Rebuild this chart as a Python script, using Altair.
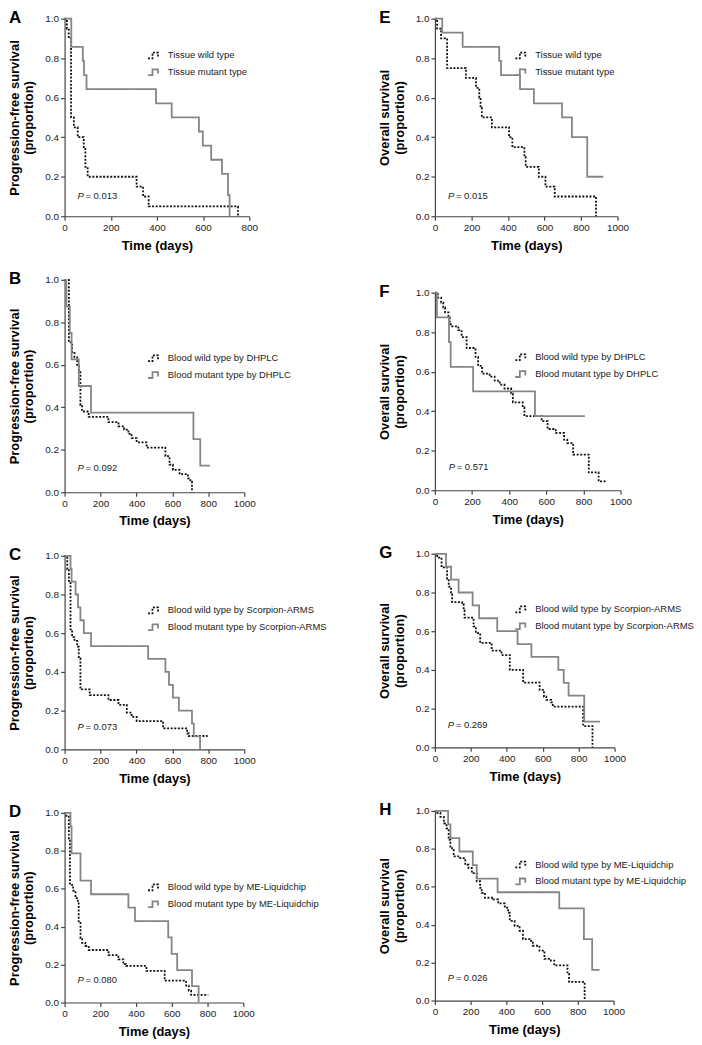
import altair as alt
import pandas as pd

FONT = "Liberation Sans"
WILD_COLOR = "#111111"
MUT_COLOR = "#858585"
WILD_DASH = [2, 1.6]
MUT_DASH = [1, 0]
STEP_SYMBOL = "M-1,0.45L-0.3,0.45L-0.3,-0.45L0.55,-0.45L0.55,0.2"

Y_TICKS = [0, 0.2, 0.4, 0.6, 0.8, 1.0]
X_TICKS_800 = [0, 200, 400, 600, 800]
X_TICKS_1000 = [0, 200, 400, 600, 800, 1000]

# ---------------- Panel A: tissue, progression-free survival ----------------
A_labels = ["Tissue wild type", "Tissue mutant type"]
A_wild_t = [0, 10, 18, 28, 40, 57, 83, 90, 100, 312, 340, 364, 751]
A_wild_s = [1.0, 0.95, 0.90, 0.50, 0.45, 0.40, 0.35, 0.25, 0.20, 0.15, 0.10, 0.05, 0.0]
A_mut_t = [0, 29, 79, 84, 95, 396, 464, 582, 599, 635, 682, 708, 715]
A_mut_s = [1.0, 0.857, 0.786, 0.714, 0.643, 0.571, 0.5, 0.429, 0.357, 0.286, 0.214, 0.107, 0.0]
A_p = "0.013"

# ---------------- Panel E: tissue, overall survival ----------------
E_labels = ["Tissue wild type", "Tissue mutant type"]
E_wild_t = [0, 12, 34, 67, 170, 225, 243, 250, 257, 312, 406, 424, 490, 497, 569, 605, 656, 882]
E_wild_s = [1.0, 0.95, 0.90, 0.75, 0.70, 0.65, 0.60, 0.55, 0.50, 0.45, 0.40, 0.35, 0.30, 0.25, 0.20, 0.15, 0.10, 0.0]
E_mut_t = [0, 40, 152, 352, 362, 466, 542, 696, 750, 834, 922]
E_mut_s = [1.0, 0.929, 0.857, 0.786, 0.714, 0.643, 0.571, 0.5, 0.4, 0.2, 0.2]
E_p = "0.015"

# ---------------- Panel B: DHPLC, progression-free survival ----------------
B_labels = ["Blood wild type by DHPLC", "Blood mutant type by DHPLC"]
B_wild_t = [0, 24, 42, 55, 70, 80, 88, 97, 134, 244, 300, 331, 355, 373, 401, 456, 561, 584, 603, 640, 686, 700, 709]
B_wild_s = [1.0, 0.705, 0.66, 0.635, 0.60, 0.565, 0.41, 0.38, 0.355, 0.33, 0.31, 0.295, 0.275, 0.255, 0.235, 0.21, 0.17, 0.13, 0.105, 0.085, 0.065, 0.05, 0.0]
B_mut_t = [0, 10, 29, 39, 79, 147, 717, 755, 809]
B_mut_s = [1.0, 0.875, 0.75, 0.625, 0.5, 0.375, 0.25, 0.125, 0.125]
B_p = "0.092"

# ---------------- Panel F: DHPLC, overall survival ----------------
F_labels = ["Blood wild type by DHPLC", "Blood mutant type by DHPLC"]
F_wild_t = [0, 16, 34, 45, 55, 73, 80, 85, 126, 144, 171, 219, 233, 254, 295, 322, 349, 375, 411, 420, 473, 482, 575, 607, 651, 696, 713, 745, 829, 882, 923]
F_wild_s = [1.0, 0.975, 0.95, 0.925, 0.90, 0.875, 0.85, 0.83, 0.81, 0.775, 0.72, 0.675, 0.63, 0.59, 0.575, 0.555, 0.535, 0.515, 0.49, 0.445, 0.42, 0.375, 0.35, 0.31, 0.29, 0.256, 0.239, 0.18, 0.09, 0.045, 0.045]
F_mut_t = [0, 11, 76, 85, 206, 539, 808]
F_mut_s = [1.0, 0.875, 0.75, 0.625, 0.5, 0.375, 0.375]
F_p = "0.571"

# ---------------- Panel C: Scorpion-ARMS, progression-free survival ----------------
C_labels = ["Blood wild type by Scorpion-ARMS", "Blood mutant type by Scorpion-ARMS"]
C_wild_t = [0, 15, 24, 33, 42, 55, 70, 79, 88, 140, 244, 300, 346, 373, 401, 548, 682, 691, 796]
C_wild_s = [1.0, 0.93, 0.87, 0.62, 0.58, 0.56, 0.53, 0.47, 0.31, 0.28, 0.255, 0.23, 0.19, 0.168, 0.146, 0.108, 0.082, 0.069, 0.069]
C_mut_t = [0, 33, 39, 61, 75, 88, 107, 147, 465, 561, 581, 603, 636, 709, 719, 754]
C_mut_s = [1.0, 0.933, 0.867, 0.8, 0.733, 0.667, 0.6, 0.533, 0.467, 0.4, 0.333, 0.267, 0.2, 0.133, 0.067, 0.0]
C_p = "0.073"

# ---------------- Panel G: Scorpion-ARMS, overall survival ----------------
G_labels = ["Blood wild type by Scorpion-ARMS", "Blood mutant type by Scorpion-ARMS"]
G_wild_t = [0, 13, 37, 68, 77, 90, 96, 151, 160, 165, 215, 228, 252, 316, 371, 417, 491, 583, 607, 620, 647, 656, 825, 877]
G_wild_s = [1.0, 0.98, 0.93, 0.87, 0.83, 0.79, 0.75, 0.74, 0.708, 0.67, 0.625, 0.59, 0.54, 0.50, 0.477, 0.40, 0.335, 0.297, 0.262, 0.245, 0.232, 0.211, 0.11, 0.0]
G_mut_t = [0, 62, 90, 132, 210, 246, 347, 460, 537, 687, 717, 744, 831, 919]
G_mut_s = [1.0, 0.933, 0.867, 0.8, 0.733, 0.667, 0.6, 0.533, 0.467, 0.4, 0.333, 0.267, 0.133, 0.133]
G_p = "0.269"

# ---------------- Panel D: ME-Liquidchip, progression-free survival ----------------
D_labels = ["Blood wild type by ME-Liquidchip", "Blood mutant type by ME-Liquidchip"]
D_wild_t = [0, 10, 24, 30, 48, 61, 74, 79, 89, 98, 116, 135, 246, 301, 329, 344, 458, 560, 680, 695, 708, 804]
D_wild_s = [1.0, 0.98, 0.86, 0.62, 0.59, 0.55, 0.53, 0.42, 0.34, 0.315, 0.298, 0.277, 0.25, 0.228, 0.202, 0.193, 0.167, 0.115, 0.089, 0.063, 0.04, 0.04]
D_mut_t = [0, 33, 39, 89, 148, 357, 394, 580, 599, 630, 713, 750]
D_mut_s = [1.0, 0.929, 0.786, 0.643, 0.571, 0.5, 0.429, 0.343, 0.257, 0.171, 0.086, 0.0]
D_p = "0.080"

# ---------------- Panel H: ME-Liquidchip, overall survival ----------------
H_labels = ["Blood wild type by ME-Liquidchip", "Blood mutant type by ME-Liquidchip"]
H_wild_t = [0, 13, 31, 50, 65, 77, 87, 96, 105, 142, 170, 188, 207, 234, 253, 262, 280, 327, 354, 391, 410, 419, 446, 474, 493, 530, 548, 585, 613, 649, 668, 742, 751, 838]
H_wild_s = [1.0, 0.99, 0.969, 0.934, 0.908, 0.847, 0.812, 0.794, 0.76, 0.751, 0.716, 0.699, 0.672, 0.629, 0.594, 0.568, 0.542, 0.533, 0.512, 0.49, 0.463, 0.42, 0.394, 0.368, 0.324, 0.315, 0.289, 0.263, 0.22, 0.211, 0.185, 0.141, 0.098, 0.0]
H_mut_t = [0, 74, 87, 137, 212, 234, 351, 696, 834, 880, 922]
H_mut_s = [1.0, 0.929, 0.857, 0.786, 0.714, 0.643, 0.571, 0.486, 0.324, 0.162, 0.162]
H_p = "0.026"

PFS = "Progression-free survival"
OS = "Overall survival"


def panel(letter, ytitle, labels, wild_t, wild_s, mut_t, mut_s, xticks,
          width, height, leg_xy, p_label, p_xy):
    wild_label, mut_label = labels
    df = pd.DataFrame({
        "t": list(wild_t) + list(mut_t),
        "s": list(wild_s) + list(mut_s),
        "grp": [wild_label] * len(wild_t) + [mut_label] * len(mut_t),
    })
    legend = alt.Legend(
        title=None, orient="none", legendX=leg_xy[0], legendY=leg_xy[1],
        symbolType=STEP_SYMBOL, symbolSize=169, symbolStrokeWidth=1.8,
        symbolFillColor="transparent",
        labelFont=FONT, labelFontSize=9.5, labelColor="#222",
        labelOffset=6, rowPadding=2, padding=0,
    )
    x = alt.X("t:Q", title="Time (days)",
              scale=alt.Scale(domain=[0, xticks[-1]], nice=False),
              axis=alt.Axis(values=xticks, format="d"))
    y = alt.Y("s:Q", title=[ytitle, "(proportion)"],
              scale=alt.Scale(domain=[0, 1], nice=False),
              axis=alt.Axis(values=Y_TICKS, format=".1f"))
    lines = alt.Chart(df).mark_line(interpolate="step-after", strokeWidth=1.8).encode(
        x=x, y=y,
        color=alt.Color("grp:N", scale=alt.Scale(domain=[wild_label, mut_label],
                                                 range=[WILD_COLOR, MUT_COLOR]),
                        legend=legend),
        strokeDash=alt.StrokeDash("grp:N", scale=alt.Scale(domain=[wild_label, mut_label],
                                                           range=[WILD_DASH, MUT_DASH]),
                                  legend=legend),
    )
    pdf = pd.DataFrame({"t": [p_xy[0]], "s": [p_xy[1]],
                        "lab": ["= " + p_label], "letter": [letter]})
    p_italic = alt.Chart(pdf).mark_text(
        align="left", baseline="alphabetic", font=FONT, fontSize=9.5,
        fontStyle="italic", color="#222").encode(x=x, y=y, text=alt.value("P"))
    p_rest = alt.Chart(pdf).mark_text(
        align="left", baseline="alphabetic", font=FONT, fontSize=9.5,
        color="#222", dx=8).encode(x=x, y=y, text="lab:N")
    tag = alt.Chart(pdf).mark_text(
        align="left", baseline="alphabetic", font=FONT, fontSize=17,
        fontWeight="bold", color="#000").encode(
        x=alt.value(-56), y=alt.value(4), text="letter:N")
    return alt.layer(lines, p_italic, p_rest, tag).properties(width=width, height=height)


A = panel("A", PFS, A_labels, A_wild_t, A_wild_s, A_mut_t, A_mut_s, X_TICKS_800,
          186, 199, (83, 29.5), A_p, (56, 0.085))
B = panel("B", PFS, B_labels, B_wild_t, B_wild_s, B_mut_t, B_mut_s, X_TICKS_1000,
          181, 214, (83, 71.5), B_p, (72, 0.098))
C = panel("C", PFS, C_labels, C_wild_t, C_wild_s, C_mut_t, C_mut_s, X_TICKS_1000,
          181, 195, (83, 47.5), C_p, (72, 0.10))
D = panel("D", PFS, D_labels, D_wild_t, D_wild_s, D_mut_t, D_mut_s, X_TICKS_1000,
          180, 191, (83, 67.5), D_p, (72, 0.105))
E = panel("E", OS, E_labels, E_wild_t, E_wild_s, E_mut_t, E_mut_s, X_TICKS_1000,
          184, 199, (80, 29.5), E_p, (72, 0.087))
F = panel("F", OS, F_labels, F_wild_t, F_wild_s, F_mut_t, F_mut_s, X_TICKS_1000,
          187, 199, (80, 57.5), F_p, (75, 0.105))
G = panel("G", OS, G_labels, G_wild_t, G_wild_s, G_mut_t, G_mut_s, X_TICKS_1000,
          181, 195, (80, 48.5), G_p, (72, 0.10))
H = panel("H", OS, H_labels, H_wild_t, H_wild_s, H_mut_t, H_mut_s, X_TICKS_1000,
          180, 191, (80, 46.5), H_p, (72, 0.105))

S1 = 18
S2 = 31
SH = 52

RES = dict(color="independent", strokeDash="independent")
left = alt.vconcat(A, B, C, D, spacing=S1).resolve_scale(**RES)
right_lower = alt.vconcat(F, G, H, spacing=S1).resolve_scale(**RES)
right = alt.vconcat(E, right_lower, spacing=S2).resolve_scale(**RES)
chart = alt.hconcat(left, right, spacing=SH,
                    padding={"left": 0, "top": -3, "right": 0, "bottom": 0}
                    ).resolve_scale(**RES)

chart = chart.configure_view(stroke=None).configure_axis(
    labelFont=FONT, labelFontSize=10, labelColor="#222", labelFlush=False,
    titleFont=FONT, titleFontSize=13, titleFontWeight="bold", titleColor="#000",
    titleLineHeight=15,
    domainColor="#444", domainWidth=1.2, tickColor="#444", tickWidth=1.2,
    tickSize=4, labelPadding=2, grid=False,
).configure_axisY(titlePadding=9).configure_axisX(titlePadding=7)

chart.save("out.html", embed_options={"renderer": "svg", "actions": False})
